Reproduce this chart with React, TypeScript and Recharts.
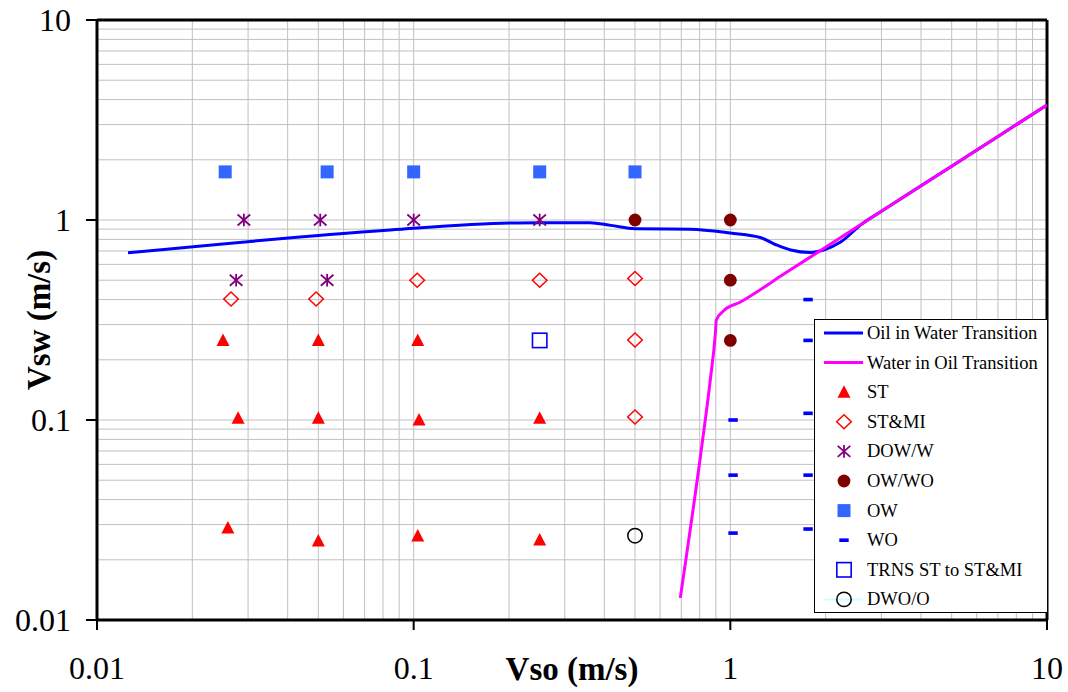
import { ScatterChart, Scatter, XAxis, YAxis, CartesianGrid, ReferenceLine, Legend } from "recharts"

const FONT = "'Liberation Serif', 'Times New Roman', serif"

const axisTicks = [0.01, 0.1, 1, 10]
const gridValues = [
  0.02, 0.03, 0.04, 0.05, 0.06, 0.07, 0.08, 0.09, 0.1,
  0.2, 0.3, 0.4, 0.5, 0.6, 0.7, 0.8, 0.9, 1,
  2, 3, 4, 5, 6, 7, 8, 9,
]

// transition curves
const oilInWater = [
  { x: 0.01253, y: 0.685 },
  { x: 0.0843, y: 0.891 },
  { x: 0.202, y: 0.966 },
  { x: 0.25, y: 0.97 },
  { x: 0.36, y: 0.97 },
  { x: 0.42, y: 0.94 },
  { x: 0.5, y: 0.905 },
  { x: 0.75, y: 0.9 },
  { x: 1.0, y: 0.86 },
  { x: 1.25, y: 0.815 },
  { x: 1.4, y: 0.75 },
  { x: 1.55, y: 0.708 },
  { x: 1.79, y: 0.688 },
  { x: 1.97, y: 0.708 },
  { x: 2.23, y: 0.776 },
  { x: 2.6, y: 0.954 },
  { x: 3, y: 1.105 },
  { x: 5, y: 1.858 },
  { x: 7, y: 2.616 },
  { x: 10, y: 3.76 },
]

const waterInOil = [
  { x: 0.695, y: 0.0129 },
  { x: 0.804, y: 0.0653 },
  { x: 0.864, y: 0.158 },
  { x: 0.897, y: 0.272 },
  { x: 0.903, y: 0.316 },
  { x: 0.951, y: 0.351 },
  { x: 1.076, y: 0.389 },
  { x: 1.5, y: 0.546 },
  { x: 2, y: 0.731 },
  { x: 3, y: 1.105 },
  { x: 5, y: 1.858 },
  { x: 7, y: 2.616 },
  { x: 10, y: 3.76 },
]

// flow pattern observations
const st = [
  { x: 0.025, y: 0.25 }, { x: 0.05, y: 0.25 }, { x: 0.103, y: 0.25 },
  { x: 0.0279, y: 0.102 }, { x: 0.05, y: 0.102 }, { x: 0.104, y: 0.1 }, { x: 0.25, y: 0.102 },
  { x: 0.0259, y: 0.0288 }, { x: 0.05, y: 0.0248 }, { x: 0.103, y: 0.0263 }, { x: 0.25, y: 0.0251 },
]
const stMi = [
  { x: 0.0265, y: 0.403 }, { x: 0.0492, y: 0.403 }, { x: 0.1026, y: 0.5 }, { x: 0.25, y: 0.5 },
  { x: 0.5, y: 0.51 }, { x: 0.5, y: 0.251 }, { x: 0.5, y: 0.1035 },
]
const dowW = [
  { x: 0.0291, y: 1.0 }, { x: 0.0507, y: 1.0 }, { x: 0.1, y: 1.0 }, { x: 0.25, y: 1.0 },
  { x: 0.0275, y: 0.5 }, { x: 0.0533, y: 0.5 },
]
const owWo = [
  { x: 0.5, y: 1.0 }, { x: 1.0, y: 1.0 }, { x: 1.0, y: 0.5 }, { x: 1.0, y: 0.25 },
]
const ow = [
  { x: 0.0254, y: 1.74 }, { x: 0.0533, y: 1.74 }, { x: 0.1, y: 1.74 }, { x: 0.25, y: 1.74 }, { x: 0.5, y: 1.74 },
]
const wo = [
  { x: 1.02, y: 0.1 }, { x: 1.02, y: 0.053 }, { x: 1.02, y: 0.0272 },
  { x: 1.76, y: 0.4 }, { x: 1.76, y: 0.25 }, { x: 1.76, y: 0.108 }, { x: 1.76, y: 0.053 }, { x: 1.76, y: 0.0285 },
]
const trns = [{ x: 0.25, y: 0.25 }]
const dwoO = [{ x: 0.5, y: 0.0264 }]

const legendItems = [
  { label: "Oil in Water Transition", kind: "blueLine" },
  { label: "Water in Oil Transition", kind: "magentaLine" },
  { label: "ST", kind: "triangle" },
  { label: "ST&MI", kind: "diamond" },
  { label: "DOW/W", kind: "star" },
  { label: "OW/WO", kind: "dot" },
  { label: "OW", kind: "square" },
  { label: "WO", kind: "dash" },
  { label: "TRNS ST to ST&MI", kind: "openSquare" },
  { label: "DWO/O", kind: "openCircle" },
]

function Marker({ kind, cx, cy }: { kind: string; cx: number; cy: number }) {
  switch (kind) {
    case "triangle":
      return <polygon points={`${cx},${cy - 7} ${cx - 6.5},${cy + 5.5} ${cx + 6.5},${cy + 5.5}`} fill="#FF0000" />
    case "diamond":
      return (
        <polygon
          points={`${cx},${cy - 7} ${cx + 7.3},${cy} ${cx},${cy + 7} ${cx - 7.3},${cy}`}
          fill="none"
          stroke="#FF0000"
          strokeWidth={1.5}
        />
      )
    case "star":
      return (
        <g stroke="#800080" strokeWidth={1.8}>
          <line x1={cx} y1={cy - 6.3} x2={cx} y2={cy + 6.3} />
          <line x1={cx - 6.3} y1={cy - 5.5} x2={cx + 6.3} y2={cy + 5.5} />
          <line x1={cx - 6.3} y1={cy + 5.5} x2={cx + 6.3} y2={cy - 5.5} />
        </g>
      )
    case "dot":
      return <circle cx={cx} cy={cy} r={6.4} fill="#800000" />
    case "square":
      return <rect x={cx - 6.5} y={cy - 6.5} width={13} height={13} fill="#3366FF" />
    case "dash":
      return <rect x={cx - 4.7} y={cy - 1.8} width={9.4} height={3.6} fill="#0000FF" />
    case "openSquare":
      return <rect x={cx - 7.2} y={cy - 7.2} width={14.4} height={14.4} fill="none" stroke="#0000FF" strokeWidth={1.6} />
    case "openCircle":
      return <circle cx={cx} cy={cy} r={7.2} fill="none" stroke="#000000" strokeWidth={1.5} />
    default:
      return <g />
  }
}

const markerShape = (kind: string) => (props: any) => <Marker kind={kind} cx={props.cx} cy={props.cy} />

function LegendBox() {
  return (
    <div style={{ width: 234, height: 294, boxSizing: "border-box", border: "1px solid #000", background: "#fff" }}>
      <svg width={232} height={292}>
        {legendItems.map((item, i) => {
          const cy = 13 + i * 29.6
          return (
            <g key={item.label}>
              {item.kind === "blueLine" && <line x1={9} x2={48} y1={cy} y2={cy} stroke="#0000FF" strokeWidth={3} />}
              {item.kind === "magentaLine" && <line x1={9} x2={48} y1={cy} y2={cy} stroke="#FF00FF" strokeWidth={3} />}
              {item.kind === "openCircle" && <line x1={9} x2={48} y1={cy} y2={cy} stroke="#CCFFFF" strokeWidth={2} />}
              <Marker kind={item.kind} cx={29} cy={cy} />
              <text x={52} y={cy + 6} fontFamily={FONT} fontSize={18.5} fill="#000">
                {item.label}
              </text>
            </g>
          )
        })}
      </svg>
    </div>
  )
}

export default function App() {
  const tickStyle = { fill: "#000", fontSize: 32, fontFamily: FONT, style: { fontFamily: FONT } }
  return (
    <div style={{ position: "absolute", left: 0, top: 0, background: "#fff", fontFamily: FONT }}>
      <ScatterChart
        width={1068}
        height={692}
        margin={{ top: 20, right: 21, bottom: 0, left: 0 }}
        style={{ fontFamily: FONT }}
      >
        <CartesianGrid
          stroke="#c0c0c0"
          strokeWidth={1}
          horizontalValues={gridValues}
          verticalValues={gridValues}
        />
        <XAxis
          type="number"
          dataKey="x"
          scale="log"
          domain={[0.01, 10]}
          ticks={axisTicks}
          interval={0}
          allowDataOverflow
          height={72}
          tick={tickStyle}
          tickSize={10}
          tickMargin={26}
          tickFormatter={(v) => String(v)}
          axisLine={{ stroke: "#000", strokeWidth: 3 }}
          tickLine={{ stroke: "#000", strokeWidth: 2 }}
          label={({ viewBox }: any) => (
            <text
              x={viewBox.x + viewBox.width / 2}
              y={viewBox.y + viewBox.height - 12}
              textAnchor="middle"
              fontFamily={FONT}
              fontSize={33}
              fontWeight="bold"
              fill="#000"
            >
              Vso (m/s)
            </text>
          )}
        />
        <YAxis
          type="number"
          dataKey="y"
          scale="log"
          domain={[0.01, 10]}
          ticks={axisTicks}
          interval={0}
          allowDataOverflow
          width={97}
          tick={tickStyle}
          tickSize={11}
          tickMargin={15}
          tickFormatter={(v) => String(v)}
          axisLine={{ stroke: "#000", strokeWidth: 3 }}
          tickLine={{ stroke: "#000", strokeWidth: 2 }}
          label={({ viewBox }: any) => {
            const cy = viewBox.y + viewBox.height / 2
            return (
              <text
                transform="rotate(-90)"
                x={-cy}
                y={viewBox.x + 50}
                textAnchor="middle"
                fontFamily={FONT}
                fontSize={33}
                fontWeight="bold"
                fill="#000"
              >
                Vsw (m/s)
              </text>
            )
          }}
        />
        <ReferenceLine y={10} stroke="#000" strokeWidth={3} />
        <ReferenceLine x={10} stroke="#000" strokeWidth={3} />

        <Scatter
          name="Oil in Water Transition"
          data={oilInWater}
          line={{ stroke: "#0000FF", strokeWidth: 3 }}
          lineJointType="monotoneX"
          shape={() => <g />}
          isAnimationActive={false}
        />
        <Scatter
          name="Water in Oil Transition"
          data={waterInOil}
          line={{ stroke: "#FF00FF", strokeWidth: 3 }}
          lineJointType="monotoneX"
          shape={() => <g />}
          isAnimationActive={false}
        />
        <Scatter name="ST" data={st} shape={markerShape("triangle")} isAnimationActive={false} />
        <Scatter name="ST&MI" data={stMi} shape={markerShape("diamond")} isAnimationActive={false} />
        <Scatter name="DOW/W" data={dowW} shape={markerShape("star")} isAnimationActive={false} />
        <Scatter name="OW/WO" data={owWo} shape={markerShape("dot")} isAnimationActive={false} />
        <Scatter name="OW" data={ow} shape={markerShape("square")} isAnimationActive={false} />
        <Scatter name="WO" data={wo} shape={markerShape("dash")} isAnimationActive={false} />
        <Scatter name="TRNS ST to ST&MI" data={trns} shape={markerShape("openSquare")} isAnimationActive={false} />
        <Scatter name="DWO/O" data={dwoO} shape={markerShape("openCircle")} isAnimationActive={false} />

        <Legend
          layout="vertical"
          align="center"
          verticalAlign="middle"
          content={() => <LegendBox />}
          wrapperStyle={{ position: "absolute", left: 814, top: 319, width: 234, height: 294 }}
        />
      </ScatterChart>
    </div>
  )
}
